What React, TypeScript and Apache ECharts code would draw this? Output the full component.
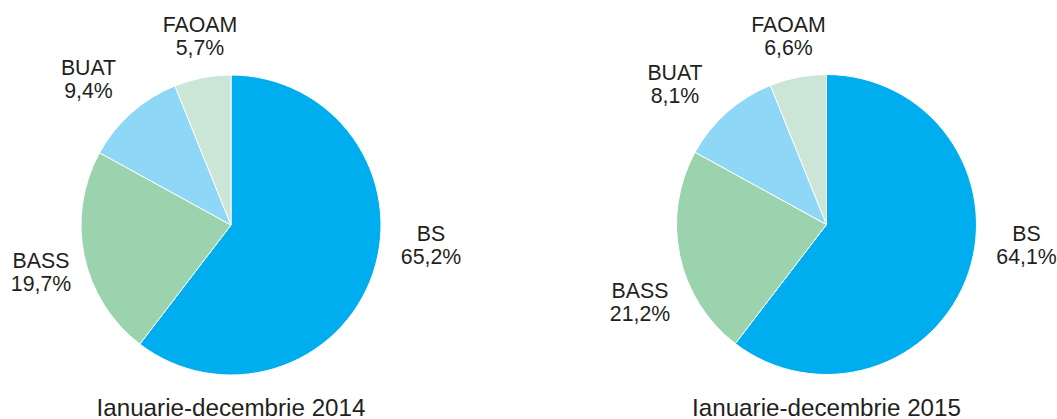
import React, { useEffect, useRef } from "react";
import * as echarts from "echarts";

// Categories (clockwise from 12 o'clock)
const categories = ["BS", "BASS", "BUAT", "FAOAM"];

// Slice sizes as drawn in the picture (share of the circle, %)
const slices2014 = [60.4, 22.6, 10.9, 6.1];
const slices2015 = [60.4, 22.6, 10.9, 6.1];

// Percentages printed on the labels
const labels2014 = ["65,2%", "19,7%", "9,4%", "5,7%"];
const labels2015 = ["64,1%", "21,2%", "8,1%", "6,6%"];

const periodTitles = ["Ianuarie-decembrie 2014", "Ianuarie-decembrie 2015"];

const colors = ["#00AEEF", "#9BD3AE", "#8FD7F7", "#CBE6D6"];
const FONT = "'Liberation Sans', Arial, Helvetica, sans-serif";
const TEXT = "#231F20";

const centers: [number, number][] = [
  [231, 225],
  [826.5, 224.5],
];
// label block offsets from each pie centre
const labelOffsets: [number, number][][] = [
  [
    [200, 20],
    [-190, 47],
    [-142.5, -146],
    [-31, -188.5],
  ],
  [
    [200, 20.5],
    [-186.5, 77.5],
    [-151.5, -140.5],
    [-38, -188],
  ],
];

export default function App() {
  const ref = useRef<HTMLDivElement>(null);
  useEffect(() => {
    if (!ref.current) return;
    const chart = echarts.init(ref.current, undefined, { renderer: "svg" });
    const sets = [
      { slices: slices2014, labels: labels2014 },
      { slices: slices2015, labels: labels2015 },
    ];
    const series = sets.map((s, si) => ({
      type: "pie",
      center: centers[si],
      radius: 150,
      startAngle: 90,
      clockwise: true,
      avoidLabelOverlap: false,
      silent: true,
      itemStyle: { borderColor: "#ffffff", borderWidth: 1 },
      label: {
        show: true,
        position: "outside",
        formatter: (p: any) => `${p.name}\n${s.labels[p.dataIndex]}`,
        fontFamily: FONT,
        fontSize: 21.3,
        lineHeight: 23,
        color: TEXT,
        align: "center",
      },
      labelLine: { show: false },
      labelLayout: (p: any) => {
        const off = labelOffsets[si][p.dataIndex];
        return {
          x: centers[si][0] + off[0],
          y: centers[si][1] + off[1],
          align: "center",
          verticalAlign: "middle",
        };
      },
      data: categories.map((c, i) => ({
        name: c,
        value: s.slices[i],
        itemStyle: { color: colors[i] },
      })),
    }));
    chart.setOption({
      animation: false,
      backgroundColor: "#ffffff",
      series,
      graphic: periodTitles.map((t, i) => ({
        type: "text",
        x: centers[i][0],
        y: 407,
        style: {
          text: t,
          fontFamily: FONT,
          fontSize: 24.2,
          fill: TEXT,
          align: "center",
          verticalAlign: "middle",
        },
      })),
    });
    return () => chart.dispose();
  }, []);
  return (
    <div
      ref={ref}
      style={{ position: "fixed", left: 0, top: 0, width: 1057, height: 419 }}
    />
  );
}
